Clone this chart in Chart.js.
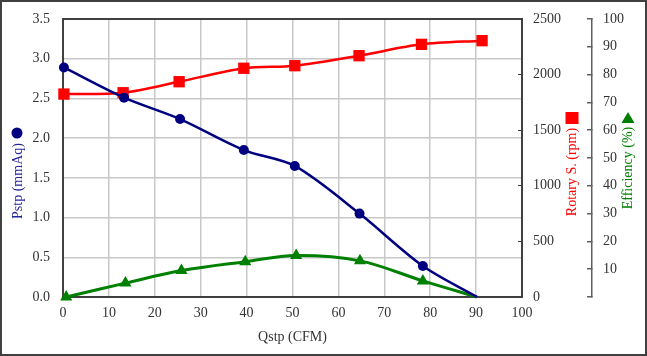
<!DOCTYPE html>
<html><head><meta charset="utf-8">
<script src="https://cdn.jsdelivr.net/npm/chart.js@4.4.1/dist/chart.umd.min.js"></script>
<style>html,body{margin:0;padding:0;background:#fff}#wrap{width:647px;height:356px;position:relative}</style>
</head><body><div id="wrap"><canvas id="c" width="647" height="356"></canvas></div>
<script>
// Data
const qstp    = [0.2, 13.3, 25.5, 39.4, 50.5, 64.6, 78.4, 90.2];
const pstp    = [2.89, 2.51, 2.24, 1.85, 1.65, 1.05, 0.39, 0];
const rpmQstp = [0.2, 13.1, 25.3, 39.4, 50.5, 64.5, 78.1, 91.3];
const rpm     = [1825, 1837, 1936, 2057, 2080, 2170, 2272, 2305];
const effQstp = [0.7, 13.6, 25.8, 39.7, 50.8, 64.7, 78.4, 90.2];
const eff     = [0, 5.0, 9.5, 12.7, 14.9, 13.0, 5.8, 0];

const xAxisTitle = 'Qstp (CFM)';
const pTitle = 'Pstp (mmAq)';
const rTitle = 'Rotary S. (rpm)';
const eTitle = 'Efficiency (%)';

const NAVY = '#000080', RED = '#ff0000', GREEN = '#008000';
const FONT = {family: '"Liberation Serif", "Times New Roman", serif', size: 14};
const TICKC = '#333333', GRIDC = '#c8c8c8', FRAME = '#404040';

const pts = (xs, ys) => xs.map((x, i) => ({x, y: ys[i]}));
const fixV = w => s => { s.width = w; s.paddingTop = 0; s.paddingBottom = 0; };

const framePlugin = {
  id: 'frame',
  beforeDatasetsDraw(chart) {
    const {ctx, chartArea: a} = chart;
    ctx.save();
    ctx.strokeStyle = FRAME; ctx.lineWidth = 2;
    ctx.strokeRect(a.left, a.top, a.right - a.left, a.bottom - a.top);
    ctx.restore();
  },
  afterDraw(chart) {
    const {ctx} = chart;
    const yL = chart.scales.y, yR = chart.scales.yR, yE = chart.scales.yE;
    ctx.save();
    ctx.strokeStyle = FRAME; ctx.lineWidth = 2;
    ctx.strokeRect(1, 1, chart.width - 2, chart.height - 2);
    ctx.font = FONT.size + 'px ' + FONT.family;
    ctx.textAlign = 'center'; ctx.textBaseline = 'middle';
    const vtext = (t, x, y, c) => {
      ctx.save(); ctx.translate(x, y); ctx.rotate(-Math.PI / 2);
      ctx.fillStyle = c; ctx.fillText(t, 0, 0); ctx.restore();
    };
    // left title + circle
    const lx = yL.left + 18;
    vtext(pTitle, lx, 181, '#24249a');
    ctx.fillStyle = NAVY; ctx.beginPath(); ctx.arc(lx - 1, 133, 5.5, 0, Math.PI * 2); ctx.fill();
    // rpm title + square
    const rx = yR.left + 50;
    vtext(rTitle, rx, 172, RED);
    ctx.fillStyle = RED; ctx.fillRect(rx - 6.5, 112, 13, 12);
    // efficiency title + triangle
    const ex = yE.left + 36;
    vtext(eTitle, ex, 168, GREEN);
    ctx.fillStyle = GREEN; ctx.beginPath();
    ctx.moveTo(ex, 112); ctx.lineTo(ex + 6.5, 123); ctx.lineTo(ex - 6.5, 123); ctx.closePath(); ctx.fill();
    ctx.restore();
  }
};

new Chart(document.getElementById('c'), {
  type: 'scatter',
  data: {
    datasets: [
      {label: 'Pstp', data: pts(qstp, pstp), yAxisID: 'y', showLine: true,
       borderColor: NAVY, backgroundColor: NAVY, borderWidth: 2.5, tension: 0.3,
       pointStyle: 'circle', pointRadius: [5, 5, 5, 5, 5, 5, 5, 0], pointBorderWidth: 0, clip: false},
      {label: 'Rotary', data: pts(rpmQstp, rpm), yAxisID: 'yR', showLine: true,
       borderColor: RED, backgroundColor: RED, borderWidth: 2.5, tension: 0.3,
       pointStyle: 'rect', pointRadius: 8, pointBorderWidth: 0, clip: false},
      {label: 'Efficiency', data: pts(effQstp, eff), yAxisID: 'yE', showLine: true,
       borderColor: GREEN, backgroundColor: GREEN, borderWidth: 3, tension: 0.35,
       pointStyle: 'triangle', pointRadius: [7, 7, 7, 7, 7, 7, 7, 0], pointBorderWidth: 0, clip: false}
    ]
  },
  options: {
    responsive: false, animation: false, devicePixelRatio: 1,
    layout: {padding: {top: 19, left: 0, right: 0, bottom: 0}},
    plugins: {legend: {display: false}, tooltip: {enabled: false}},
    scales: {
      x: {type: 'linear', position: 'bottom', min: 0, max: 100,
          ticks: {stepSize: 10, padding: 8, color: TICKC, font: FONT, maxRotation: 0},
          grid: {color: GRIDC, lineWidth: 1.5, drawTicks: false}, border: {display: false},
          title: {display: true, text: xAxisTitle, color: TICKC, font: FONT, padding: {top: 4, bottom: 10}},
          afterFit(s) { s.height = 59; s.paddingLeft = 0; s.paddingRight = 0; }},
      y: {position: 'left', min: 0, max: 3.5,
          ticks: {stepSize: 0.5, padding: 13, color: TICKC, font: FONT, callback: v => Number(v).toFixed(1)},
          grid: {color: GRIDC, lineWidth: 1.5, drawTicks: false}, border: {display: false},
          afterFit: fixV(63)},
      yR: {position: 'right', min: 0, max: 2500,
          ticks: {stepSize: 500, padding: 15, color: TICKC, font: FONT, callback: v => String(v)},
          grid: {drawOnChartArea: false, tickLength: -4, color: FRAME, lineWidth: 1}, border: {display: false},
          afterFit: fixV(70)},
      yE: {position: 'right', min: 0, max: 100,
          ticks: {stepSize: 10, padding: 16, color: TICKC, font: FONT, callback: v => (v === 0 ? '' : String(v))},
          grid: {drawOnChartArea: false, tickLength: -5, color: '#606060', lineWidth: 1.5},
          border: {display: true, color: '#606060', width: 1.5},
          afterFit: fixV(55)}
    }
  },
  plugins: [framePlugin]
});
</script>
</body></html>
